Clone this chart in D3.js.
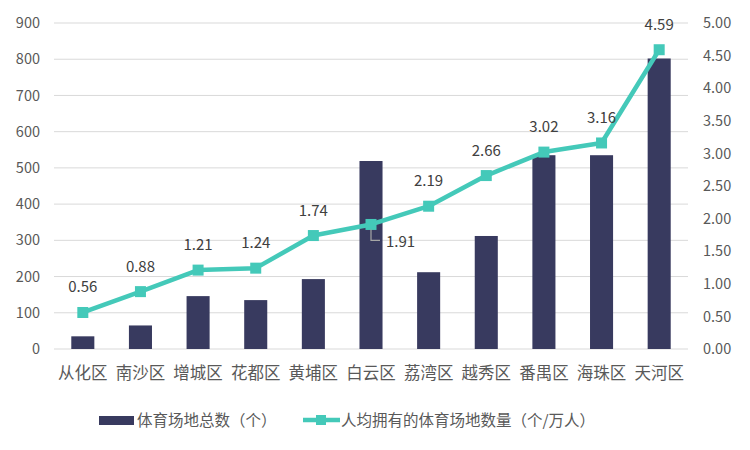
<!DOCTYPE html>
<html>
<head>
<meta charset="utf-8">
<script src="https://cdn.jsdelivr.net/npm/d3@7"></script>
<style>
  body { margin: 0; background: #fff; }
  svg text { font-family: "Noto Sans CJK SC", "Noto Sans", sans-serif; }
</style>
</head>
<body>
<svg id="chart" width="750" height="450"></svg>
<script>
const districts = ["从化区", "南沙区", "增城区", "花都区", "黄埔区", "白云区", "荔湾区", "越秀区", "番禺区", "海珠区", "天河区"];
const venueTotals = [35, 65, 146, 135, 193, 519, 212, 312, 535, 535, 802];
const perCapita = [0.56, 0.88, 1.21, 1.24, 1.74, 1.91, 2.19, 2.66, 3.02, 3.16, 4.59];
const leftTicks = [0, 100, 200, 300, 400, 500, 600, 700, 800, 900];
const rightTicks = [0, 0.5, 1, 1.5, 2, 2.5, 3, 3.5, 4, 4.5, 5];
const barName = "体育场地总数（个）";
const lineName = "人均拥有的体育场地数量（个/万人）";

const W = 750, H = 450;
const m = { top: 23, right: 62, bottom: 101, left: 54 };
const iW = W - m.left - m.right;
const iH = H - m.top - m.bottom;

const BAR = "#383a5f", TEAL = "#44c9b9";

const svg = d3.select("#chart");
const g = svg.append("g").attr("transform", `translate(${m.left},${m.top})`);

const x = d3.scaleBand().domain(districts).range([0, iW]).paddingInner(0.6).paddingOuter(0.3);
const xc = d => x(d) + x.bandwidth() / 2;
const yL = d3.scaleLinear().domain([0, 900]).range([iH, 0]);
const yR = d3.scaleLinear().domain([0, 5]).range([iH, 0]);

// Grid
g.append("g").selectAll("line").data(leftTicks).join("line")
  .attr("x1", 0).attr("x2", iW)
  .attr("y1", d => yL(d)).attr("y2", d => yL(d))
  .attr("stroke", "#d9d9d9").attr("stroke-width", 1);

// Left axis
g.append("g")
  .call(d3.axisLeft(yL).tickValues(leftTicks).tickSize(0).tickPadding(14))
  .call(ax => {
    ax.select(".domain").remove();
    ax.selectAll(".tick text").style("fill", "#595959").style("font-size", "14.5px");
  });

// Right axis
g.append("g")
  .attr("transform", `translate(${iW},0)`)
  .call(d3.axisRight(yR).tickValues(rightTicks).tickFormat(d3.format(".2f")).tickSize(0).tickPadding(15))
  .call(ax => {
    ax.select(".domain").remove();
    ax.selectAll(".tick text").style("fill", "#595959").style("font-size", "14.5px");
  });

// X axis
g.append("g")
  .attr("transform", `translate(0,${iH})`)
  .call(d3.axisBottom(x).tickSize(0).tickPadding(18))
  .call(ax => {
    ax.select(".domain").remove();
    ax.selectAll(".tick text").style("fill", "#595959").style("font-size", "16.5px");
  });

// Bars
g.selectAll(".bar").data(districts).join("rect")
  .attr("class", "bar")
  .attr("x", d => x(d))
  .attr("width", x.bandwidth())
  .attr("y", (d, i) => yL(venueTotals[i]))
  .attr("height", (d, i) => iH - yL(venueTotals[i]))
  .attr("fill", BAR);

// Line
const line = d3.line().x((d, i) => xc(districts[i])).y(d => yR(d));
g.append("path").datum(perCapita)
  .attr("d", line)
  .attr("fill", "none").attr("stroke", TEAL).attr("stroke-width", 4.5)
  .attr("stroke-linejoin", "round");

g.selectAll(".mk").data(perCapita).join("rect")
  .attr("class", "mk")
  .attr("x", (d, i) => xc(districts[i]) - 5.5)
  .attr("y", d => yR(d) - 5.5)
  .attr("width", 11).attr("height", 11)
  .attr("fill", TEAL);

// Data labels (白云区 uses a leader line to the lower right)
const baiyun = districts.indexOf("白云区");
g.selectAll(".lbl").data(perCapita).join("text")
  .attr("class", "lbl")
  .attr("x", (d, i) => i === baiyun ? xc(districts[i]) + 15 : xc(districts[i]))
  .attr("y", (d, i) => i === baiyun ? yR(d) + 23 : yR(d) - 20)
  .attr("text-anchor", (d, i) => i === baiyun ? "start" : "middle")
  .style("fill", "#404040").style("font-size", "15px")
  .text(d => d.toFixed(2));

g.append("path")
  .attr("d", `M${xc(districts[baiyun])},${yR(perCapita[baiyun]) + 5}v11h9`)
  .attr("fill", "none").attr("stroke", "#a6a6a6").attr("stroke-width", 1.2);

// Legend
const lg = svg.append("g").attr("transform", "translate(0,420)");
lg.append("rect").attr("x", 99).attr("y", -4).attr("width", 35).attr("height", 9).attr("fill", BAR);
lg.append("text").attr("x", 137).attr("y", 5.5).style("fill", "#595959").style("font-size", "15.5px").text(barName);
lg.append("line").attr("x1", 303).attr("x2", 340).attr("y1", 0).attr("y2", 0)
  .attr("stroke", TEAL).attr("stroke-width", 4.5);
lg.append("rect").attr("x", 316).attr("y", -5).attr("width", 10).attr("height", 10).attr("fill", TEAL);
lg.append("text").attr("x", 341).attr("y", 5.5).style("fill", "#595959").style("font-size", "15.5px").text(lineName);
</script>
</body>
</html>
